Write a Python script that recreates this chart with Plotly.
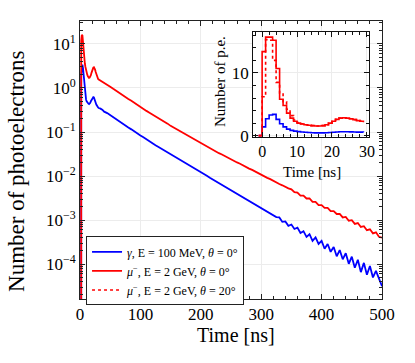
import plotly.graph_objects as go

# ---------------- data ----------------
# main panel: 1 ns samples for 0..40 ns, then 5 ns samples 45..500 ns
main_time_early = list(range(0, 41))
main_time_tail = list(range(45, 501, 5))

gamma_early = [0, 0, 2.0, 3.3, 3.4, 2.8, 1.9, 1.2, 0.85, 0.65,
               0.55, 0.5, 0.47, 0.45, 0.44, 0.43, 0.44, 0.46, 0.5, 0.54,
               0.58, 0.61, 0.62, 0.61, 0.57, 0.52, 0.46, 0.42, 0.39, 0.37,
               0.36, 0.35, 0.35, 0.34, 0.34, 0.33, 0.33, 0.32, 0.31, 0.30, 0.29]
gamma_tail = [0.269, 0.240, 0.214, 0.191, 0.174, 0.155, 0.141, 0.126, 0.115, 0.102,
              0.0933, 0.0832, 0.0759, 0.0676, 0.0617, 0.0562, 0.0501, 0.0457, 0.0417, 0.0380,
              0.0347, 0.0309, 0.0282, 0.0257, 0.0234, 0.0214, 0.0195, 0.0178, 0.0162, 0.0148,
              0.0135, 0.0123, 0.0112, 0.0102, 0.00912, 0.00832, 0.00759, 0.00692, 0.00631, 0.00575,
              0.00525, 0.00468, 0.00437, 0.00389, 0.00363, 0.00324, 0.00302, 0.00269, 0.00251, 0.00224,
              0.00209, 0.00186, 0.00170, 0.00155, 0.00141, 0.00129, 0.00117, 0.00115, 0.000912, 0.000933,
              0.000741, 0.000794, 0.000631, 0.000676, 0.000513, 0.000562, 0.000417, 0.000479, 0.000339, 0.000407,
              0.000288, 0.000339, 0.000224, 0.000288, 0.000191, 0.000245, 0.000151, 0.000209, 0.000129, 0.000178,
              0.000102, 0.000148, 0.0000832, 0.000126, 0.0000661, 0.000107, 0.0000575, 0.0000912, 0.0000501, 0.0000708,
              0.0000468, 0.0000316]

muon_early = [0, 0, 12, 16, 15.5, 11, 6, 4.5, 3.6, 3.0,
              2.5, 2.2, 2.0, 1.85, 1.75, 1.7, 1.72, 1.8, 1.95, 2.2,
              2.5, 2.75, 2.9, 2.95, 2.85, 2.6, 2.3, 2.05, 1.85, 1.7,
              1.6, 1.55, 1.52, 1.5, 1.48, 1.46, 1.44, 1.42, 1.4, 1.37, 1.34]
muon_tail = [1.20, 1.07, 0.955, 0.851, 0.776, 0.692, 0.631, 0.562, 0.513, 0.457,
             0.417, 0.372, 0.339, 0.302, 0.275, 0.251, 0.224, 0.204, 0.186, 0.170,
             0.155, 0.138, 0.126, 0.115, 0.105, 0.0955, 0.0871, 0.0794, 0.0724, 0.0661,
             0.0603, 0.0550, 0.0513, 0.0468, 0.0427, 0.0389, 0.0363, 0.0331, 0.0309, 0.0282,
             0.0263, 0.0240, 0.0224, 0.0204, 0.0191, 0.0174, 0.0162, 0.0148, 0.0138, 0.0126,
             0.0117, 0.0107, 0.0100, 0.00912, 0.00851, 0.00776, 0.00724, 0.00661, 0.00617, 0.00562,
             0.00525, 0.0050, 0.0043, 0.0042, 0.0036, 0.0036, 0.0031, 0.0031, 0.0026, 0.0026,
             0.0022, 0.0022, 0.0019, 0.0019, 0.0016, 0.0016, 0.00138, 0.00138, 0.00115, 0.00118,
             0.00097, 0.00100, 0.00082, 0.00086, 0.00070, 0.00073, 0.00059, 0.00062, 0.00050, 0.00053,
             0.00042, 0.00040]

# inset: 1 ns bins, left edges -1..29 ns
inset_time = list(range(-1, 30))
inset_gamma = [0, 1.4, 2.7, 3.3, 3.4, 2.6, 1.9, 1.4, 1.05, 0.85, 0.72,
               0.64, 0.58, 0.54, 0.5, 0.47, 0.45, 0.44, 0.45, 0.47, 0.5,
               0.54, 0.58, 0.62, 0.63, 0.62, 0.6, 0.58, 0.57, 0.56, 0.55]
inset_mu0 = [0, 13.4, 15.7, 15.7, 15.2, 10.7, 5.8, 4.8, 3.6, 2.8, 2.3,
             2.0, 1.85, 1.75, 1.65, 1.6, 1.55, 1.55, 1.6, 1.75, 2.0,
             2.3, 2.6, 2.8, 2.85, 2.8, 2.7, 2.55, 2.4, 2.3, 2.15]
inset_mu20 = [0, 6.2, 15.3, 15.2, 12.0, 8.5, 6.8, 5.4, 4.2, 3.2, 2.5,
              2.1, 1.9, 1.75, 1.65, 1.6, 1.55, 1.55, 1.6, 1.75, 2.0,
              2.3, 2.6, 2.8, 2.85, 2.8, 2.7, 2.55, 2.4, 2.3, 2.15]

x_ticks_main = [0, 100, 200, 300, 400, 500]
y_ticks_main = [1e-4, 1e-3, 1e-2, 1e-1, 1, 10]
y_ticktext_main = ["10<sup>−4</sup>", "10<sup>−3</sup>", "10<sup>−2</sup>",
                   "10<sup>−1</sup>", "10<sup>0</sup>", "10<sup>1</sup>"]
x_ticks_inset = [0, 10, 20, 30]
y_ticks_inset = [0, 10]

labels = ["<i>γ</i>, E = 100 MeV, <i>θ</i> = 0°",
          "<i>μ</i><sup>−</sup>, E = 2 GeV, <i>θ</i> = 0°",
          "<i>μ</i><sup>−</sup>, E = 2 GeV, <i>θ</i> = 20°"]

BLUE = "#0000ff"
RED = "#ff0000"
FONT = "Liberation Serif"

main_time = main_time_early + main_time_tail
gamma_main = gamma_early + gamma_tail
muon_main = muon_early + muon_tail

fig = go.Figure()
fig.add_trace(go.Scatter(x=main_time, y=gamma_main, mode="lines", name=labels[0],
                         line=dict(color=BLUE, width=1.8), xaxis="x", yaxis="y"))
fig.add_trace(go.Scatter(x=main_time, y=muon_main, mode="lines", name=labels[1],
                         line=dict(color=RED, width=1.8), xaxis="x", yaxis="y"))
fig.add_trace(go.Scatter(x=inset_time, y=inset_gamma, mode="lines", line_shape="hv",
                         showlegend=False, line=dict(color=BLUE, width=1.6),
                         xaxis="x2", yaxis="y2"))
fig.add_trace(go.Scatter(x=inset_time, y=inset_mu0, mode="lines", line_shape="hv",
                         showlegend=False, line=dict(color=RED, width=1.6),
                         xaxis="x2", yaxis="y2"))
fig.add_trace(go.Scatter(x=inset_time, y=inset_mu20, mode="lines", line_shape="hv",
                         name=labels[2], line=dict(color=RED, width=1.6, dash="dot"),
                         xaxis="x2", yaxis="y2"))

axis_common = dict(showline=True, linecolor="#222", linewidth=1, mirror="ticks",
                   ticks="inside", tickcolor="#222", ticklen=5,
                   showgrid=True, gridcolor="#ececec", gridwidth=1, zeroline=False)
inset_common = {**axis_common, "linecolor": "#111", "tickcolor": "#111"}

fig.update_layout(
    width=415, height=363,
    margin=dict(l=80, r=33, t=21, b=64),
    paper_bgcolor="white", plot_bgcolor="white",
    font=dict(family=FONT, color="black"),
    xaxis=dict(domain=[0, 1], range=[0, 500], tickvals=x_ticks_main,
               tickfont=dict(size=17, family=FONT, color="black"),
               minor=dict(ticks="inside", ticklen=3, dtick=20, tickcolor="#222", showgrid=False),
               **axis_common),
    yaxis=dict(domain=[0, 1], type="log", range=[-4.79, 1.52],
               tickvals=y_ticks_main, ticktext=y_ticktext_main,
               tickfont=dict(size=17, family=FONT, color="black"),
               minor=dict(ticks="inside", ticklen=3, dtick="D1", tickcolor="#222", showgrid=False),
               **axis_common),
    xaxis2=dict(domain=[0.573, 0.957], anchor="y2", range=[-2.6, 30.6],
                tickvals=x_ticks_inset, tickfont=dict(size=16, family=FONT, color="black"),
                minor=dict(ticks="inside", ticklen=3, dtick=2, tickcolor="#111", showgrid=False),
                **inset_common),
    yaxis2=dict(domain=[0.583, 0.960], anchor="x2", range=[-0.2, 16.5],
                tickvals=y_ticks_inset, tickfont=dict(size=17, family=FONT, color="black"),
                minor=dict(ticks="inside", ticklen=3, dtick=2, tickcolor="#111", showgrid=False),
                **inset_common),
    legend=dict(x=0.02, y=0.225, xanchor="left", yanchor="top",
                bordercolor="#222", borderwidth=1, bgcolor="white",
                font=dict(size=12, family=FONT, color="black"), itemwidth=30,
                tracegroupgap=0),
    showlegend=True,
    annotations=[
        dict(text="Time [ns]", xref="paper", yref="paper", x=0.5166, y=-0.1295,
             xanchor="center", yanchor="middle", showarrow=False,
             font=dict(size=20, family=FONT, color="black")),
        dict(text="Number of photoelectrons", xref="paper", yref="paper", x=-0.2086, y=0.457,
             xanchor="center", yanchor="middle", showarrow=False, textangle=-90,
             font=dict(size=23, family=FONT, color="black")),
        dict(text="Number of p.e.", xref="paper", yref="paper", x=0.4636, y=0.7806,
             xanchor="center", yanchor="middle", showarrow=False, textangle=-90,
             font=dict(size=15, family=FONT, color="black")),
        dict(text="Time [ns]", xref="paper", yref="paper", x=0.768, y=0.457,
             xanchor="center", yanchor="middle", showarrow=False,
             font=dict(size=15, family=FONT, color="black")),
    ],
)

fig.write_html("out.html", config={"displayModeBar": False},
               post_script="document.body.style.margin='0';")
